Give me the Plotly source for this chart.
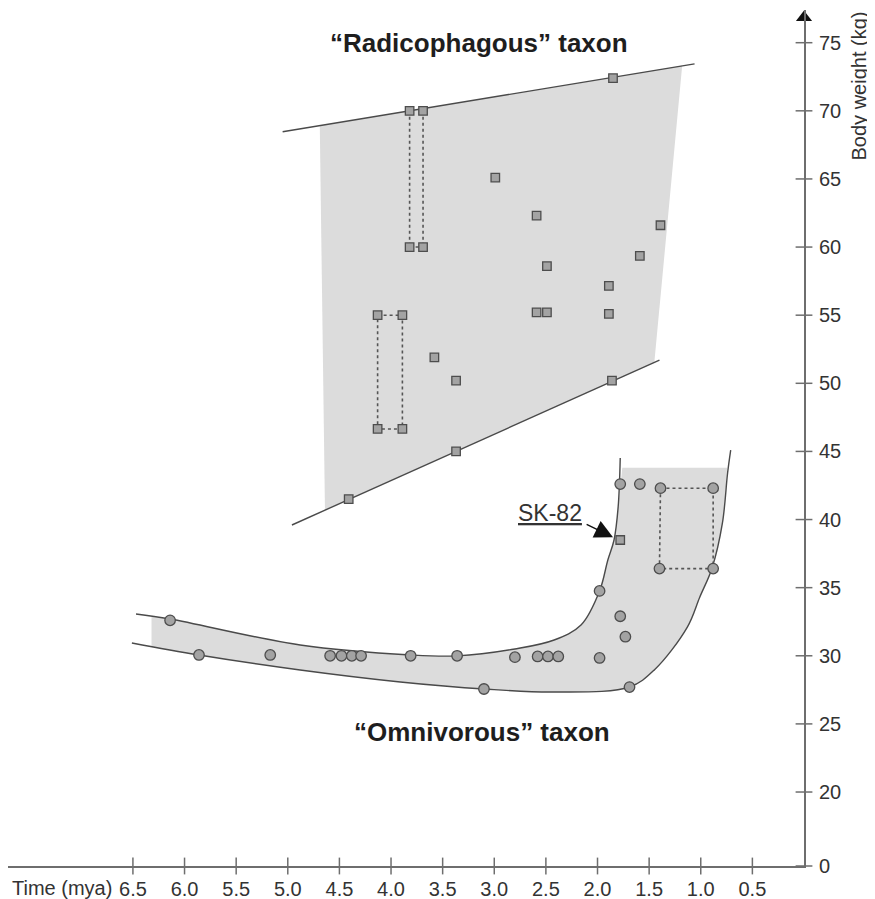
import plotly.graph_objects as go

# ---------------- data ----------------
# "Radicophagous" taxon (squares): time (mya), body weight (kg)
rad_x = [3.82, 3.69, 3.82, 3.69, 4.13, 3.89, 4.13, 3.89, 3.58, 3.37, 3.37, 4.41,
         2.99, 2.59, 2.49, 2.59, 2.49, 1.85, 1.39, 1.59, 1.89, 1.89, 1.86]
rad_y = [70, 70, 60, 60, 55, 55, 46.65, 46.65, 51.9, 50.2, 45.0, 41.5,
         65.1, 62.3, 58.6, 55.2, 55.2, 72.4, 61.6, 59.35, 57.15, 55.1, 50.2]

# "Omnivorous" taxon (circles)
omni_x = [6.14, 5.86, 5.17, 4.59, 4.48, 4.38, 4.29, 3.81, 3.36, 3.10, 2.80, 2.58, 2.48,
          2.38, 1.98, 1.78, 1.73, 1.98, 1.69, 1.40, 0.88, 1.78, 1.59, 1.39, 0.88]
omni_y = [32.6, 30.06, 30.06, 30.0, 30.0, 30.0, 30.0, 30.0, 30.0, 27.56, 29.9, 29.95, 29.95,
          29.95, 34.76, 32.9, 31.4, 29.84, 27.7, 36.4, 36.4, 42.6, 42.6, 42.3, 42.3]

# SK-82 specimen (square)
sk82_x = [1.78]
sk82_y = [38.5]

# Dotted links (ranges of same specimens)
rad_link1_x = [3.82, 3.82, None, 3.69, 3.69, None, 3.82, 3.69]
rad_link1_y = [70, 60, None, 70, 60, None, 60, 60]
rad_link2_x = [4.13, 3.89, 3.89, 4.13, 4.13]
rad_link2_y = [55, 55, 46.65, 46.65, 55]
omni_link_x = [1.39, 0.88, 0.88, 1.40, 1.39]
omni_link_y = [42.3, 42.3, 36.4, 36.4, 42.3]

# Radicophagous envelope
rad_upper_x = [5.05, 1.06]
rad_upper_y = [68.46, 73.45]
rad_lower_x = [4.96, 1.40]
rad_lower_y = [39.6, 51.7]
rad_fill_x = [4.69, 1.18, 1.45, 4.64]
rad_fill_y = [68.9, 73.3, 51.5, 40.7]

# Omnivorous envelope curves
omni_upper_x = [6.47, 6.14, 4.88, 3.81, 3.36, 2.80, 2.42, 2.16, 1.98, 1.90, 1.84, 1.80, 1.78]
omni_upper_y = [33.07, 32.70, 30.79, 30.06, 29.99, 30.50, 31.16, 32.26, 34.76, 37.03, 38.50, 40.93, 44.52]
omni_lower_x = [6.51, 5.86, 4.88, 3.91, 3.10, 2.42, 1.69, 1.45, 1.13, 1.01, 0.89, 0.79, 0.74, 0.71]
omni_lower_y = [30.94, 30.06, 28.96, 28.08, 27.56, 27.34, 27.71, 28.96, 32.11, 34.3, 36.45, 39.75, 43.42, 45.1]
# shaded band between the curves
omni_fill_top_x = [6.32, 6.14, 4.88, 3.81, 3.36, 2.80, 2.42, 2.16, 1.98, 1.90, 1.84, 1.80, 1.76]
omni_fill_top_y = [32.85, 32.70, 30.79, 30.06, 29.99, 30.50, 31.16, 32.26, 34.76, 37.03, 38.50, 40.93, 43.8]
omni_fill_bot_x = [6.32, 5.86, 4.88, 3.91, 3.10, 2.42, 1.69, 1.45, 1.13, 1.01, 0.89, 0.79, 0.745]
omni_fill_bot_y = [30.65, 30.06, 28.96, 28.08, 27.56, 27.34, 27.71, 28.96, 32.11, 34.3, 36.45, 39.75, 43.8]

# Axes
x_tick_vals = [6.5, 6.0, 5.5, 5.0, 4.5, 4.0, 3.5, 3.0, 2.5, 2.0, 1.5, 1.0, 0.5]
x_tick_text = ["6.5", "6.0", "5.5", "5.0", "4.5", "4.0", "3.5", "3.0", "2.5", "2.0", "1.5", "1.0", "0.5"]
y_zero_pos = 14.57  # broken axis: "0" sits just below 20
y_tick_vals = [y_zero_pos, 20, 25, 30, 35, 40, 45, 50, 55, 60, 65, 70, 75]
y_tick_text = ["0", "20", "25", "30", "35", "40", "45", "50", "55", "60", "65", "70", "75"]
x_range = [7.71, 0]
y_range = [y_zero_pos, 77.4]

# ---------------- styles ----------------
FILL = "#dcdcdc"
LINE = "#4a4a4a"
MFILL = "#a3a3a3"
MLINE = "#4d4d4d"
AXIS = "#6e6e6e"
TXT = "#333333"
FONT = "Liberation Sans, Arial, sans-serif"
TITLE_FONT = "Liberation Sans, Arial, sans-serif"

fig = go.Figure()

# fills
fig.add_trace(go.Scatter(x=rad_fill_x, y=rad_fill_y, fill="toself", fillcolor=FILL,
                         mode="lines", line=dict(width=0), hoverinfo="skip"))
fig.add_trace(go.Scatter(x=omni_fill_top_x, y=omni_fill_top_y, mode="lines",
                         line=dict(width=0, shape="spline"), hoverinfo="skip"))
fig.add_trace(go.Scatter(x=omni_fill_bot_x, y=omni_fill_bot_y, mode="lines", fill="tonexty",
                         fillcolor=FILL, line=dict(width=0, shape="spline"), hoverinfo="skip"))

# envelope lines
for xs, ys in [(rad_upper_x, rad_upper_y), (rad_lower_x, rad_lower_y)]:
    fig.add_trace(go.Scatter(x=xs, y=ys, mode="lines", line=dict(color=LINE, width=1.4)))
for xs, ys in [(omni_upper_x, omni_upper_y), (omni_lower_x, omni_lower_y)]:
    fig.add_trace(go.Scatter(x=xs, y=ys, mode="lines",
                             line=dict(color=LINE, width=1.4, shape="spline")))

# dotted links
for xs, ys in [(rad_link1_x, rad_link1_y), (rad_link2_x, rad_link2_y), (omni_link_x, omni_link_y)]:
    fig.add_trace(go.Scatter(x=xs, y=ys, mode="lines",
                             line=dict(color="#555555", width=1.6, dash="dot")))

# markers
fig.add_trace(go.Scatter(x=rad_x, y=rad_y, mode="markers",
                         marker=dict(symbol="square", size=8.5, color=MFILL,
                                     line=dict(color=MLINE, width=1.3))))
fig.add_trace(go.Scatter(x=omni_x, y=omni_y, mode="markers",
                         marker=dict(symbol="circle", size=10.5, color=MFILL,
                                     line=dict(color=MLINE, width=1.3))))
fig.add_trace(go.Scatter(x=sk82_x, y=sk82_y, mode="markers",
                         marker=dict(symbol="square", size=8.5, color=MFILL,
                                     line=dict(color=MLINE, width=1.3))))

# crossing tick marks on the axes
fig.add_trace(go.Scatter(x=x_tick_vals, y=[y_zero_pos] * len(x_tick_vals), mode="markers",
                         cliponaxis=False,
                         marker=dict(symbol="line-ns", size=12, line=dict(color=AXIS, width=1.5))))
fig.add_trace(go.Scatter(x=[0] * len(y_tick_vals), y=y_tick_vals, mode="markers",
                         cliponaxis=False,
                         marker=dict(symbol="line-ew", size=12, line=dict(color=AXIS, width=1.5))))
# arrow head on the y axis
fig.add_trace(go.Scatter(x=[0], y=[76.85], mode="markers", cliponaxis=False,
                         marker=dict(symbol="triangle-up", size=14, color="#111111",
                                     line=dict(width=0))))

fig.update_layout(
    width=867, height=891,
    margin=dict(l=0, r=71, t=2, b=33),
    paper_bgcolor="white", plot_bgcolor="white",
    showlegend=False,
    font=dict(family=FONT, size=20, color=TXT),
    xaxis=dict(range=x_range, showgrid=False, zeroline=False, showline=True,
               linecolor=AXIS, linewidth=2, ticks="", tickvals=x_tick_vals,
               ticktext=x_tick_text, ticklabelstandoff=4,
               tickfont=dict(family=FONT, size=20, color=TXT)),
    yaxis=dict(range=y_range, side="right", showgrid=False, zeroline=False, showline=True,
               linecolor=AXIS, linewidth=2, ticks="", tickvals=y_tick_vals,
               ticktext=y_tick_text, ticklabelstandoff=9,
               tickfont=dict(family=FONT, size=20, color=TXT)),
)

annotations = [
    dict(x=0.0025, xref="paper", y=-0.0257, yref="paper", text="Time (mya)", showarrow=False,
         xanchor="left", yanchor="middle", font=dict(family=FONT, size=20, color=TXT)),
    dict(x=1.0, xref="paper", y=1.0, yref="paper", xshift=54, text="Body weight (kg)",
         textangle=-90, showarrow=False, xanchor="center", yanchor="top",
         font=dict(family=FONT, size=20, color=TXT)),
    dict(x=4.61, y=75.0, xref="x", yref="y", text="<b>“Radicophagous” taxon</b>",
         showarrow=False, xanchor="left", yanchor="middle",
         font=dict(family=TITLE_FONT, size=26, color="#1e1e1e")),
    dict(x=4.38, y=24.4, xref="x", yref="y", text="<b>“Omnivorous” taxon</b>",
         showarrow=False, xanchor="left", yanchor="middle",
         font=dict(family=TITLE_FONT, size=26, color="#1e1e1e")),
    dict(x=2.79, y=40.5, xref="x", yref="y", text="<u>SK-82</u>", showarrow=False,
         xanchor="left", yanchor="middle", font=dict(family=FONT, size=23, color=TXT)),
    dict(x=1.85, y=38.7, xref="x", yref="y", ax=2.12, ay=39.7, axref="x", ayref="y",
         text="", showarrow=True, arrowhead=2, arrowsize=2.6, arrowwidth=1.4,
         arrowcolor="#111111"),
]
fig.update_layout(annotations=annotations)

fig.write_html("out.html")
